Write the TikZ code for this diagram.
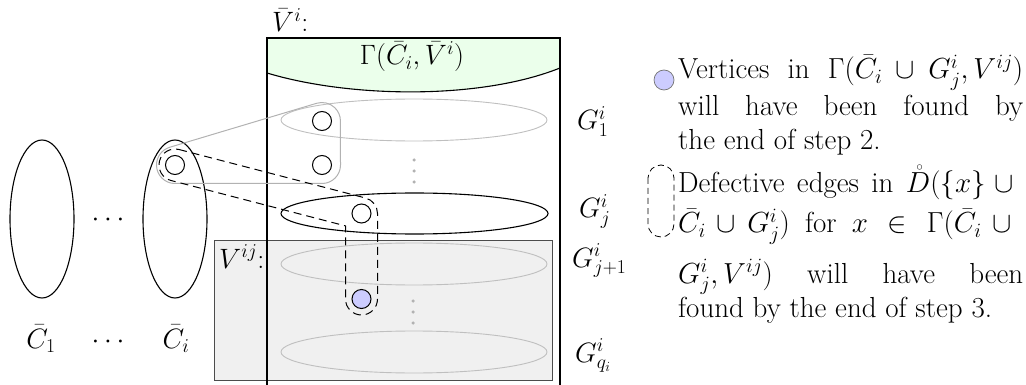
\RequirePackage{fix-cm}
\documentclass[tikz,border=0pt]{standalone}
\begin{document}
\begin{tikzpicture}[x=1pt,y=-1pt,
  txt/.style={font=\fontsize{28}{35}\selectfont, inner sep=0pt},
  ltxt/.style={font=\fontsize{29}{35}\selectfont, inner sep=0pt, anchor=base west},
  blk/.style={line width=1.1pt},
  lgray/.style={draw=black!25, line width=0.9pt},
  hull/.style={draw=black!30, line width=1pt},
  dsh/.style={line width=1pt, dash pattern=on 8pt off 5pt},
  vtx/.style={circle, draw, line width=1pt, minimum size=19pt, inner sep=0pt},
  bvtx/.style={vtx, fill=blue!20},
  gdot/.style={circle, fill=black!30, inner sep=0pt, minimum size=3.5pt}]
\useasboundingbox (0,0) rectangle (1026,385);
% green region
\fill[green!8] (267,38) -- (560,38) -- (560,68) .. controls (480,100) and (350,98) .. (267,73) -- cycle;
\draw[blk] (267,73) .. controls (350,98) and (480,100) .. (560,68);
% V^{ij} box
\draw[draw=black!70, fill=black!6, line width=1pt] (214,240) rectangle (552,380);
% V-bar box
\draw[blk] (267,392) -- (267,38) -- (560,38) -- (560,392);
% G ellipses
\draw[lgray] (414,120) ellipse [x radius=133, y radius=21];
\draw[blk] (414.5,213.5) ellipse [x radius=133.5, y radius=20.5];
\draw[lgray] (414,264) ellipse [x radius=133, y radius=21];
\draw[lgray] (414,352) ellipse [x radius=133, y radius=21];
% dots
\node[gdot] (d1) at (414,160) {};
\node[gdot] (d2) at (414,171) {};
\node[gdot] (d3) at (414,182) {};
\node[gdot] (d4) at (413,301) {};
\node[gdot] (d5) at (413,312) {};
\node[gdot] (d6) at (413,323) {};
% C ellipses
\draw[blk] (42,219) ellipse [x radius=32, y radius=79];
\draw[blk] (175,219) ellipse [x radius=32, y radius=79];
% gray hull
\draw[hull] (156.5,165) arc[start angle=180, end angle=253.2, radius=18.5] -- (316.6,103.3)
  arc[start angle=253.2, end angle=360, radius=18.5] -- (340.5,165)
  arc[start angle=0, end angle=90, radius=18.5] -- (175,183.5)
  arc[start angle=90, end angle=180, radius=18.5] -- cycle;
% dashed hull
\draw[dsh] (179.03,149.51) -- (365.53,198.01)
  arc[start angle=-75.4, end angle=0, radius=16] -- (377.5,299)
  arc[start angle=0, end angle=180, radius=16] -- (345.5,225.9) -- (170.97,180.49)
  arc[start angle=104.6, end angle=284.6, radius=16] -- cycle;
% vertices
\node[vtx] (a) at (175,165) {};
\node[vtx] (b) at (322,121) {};
\node[vtx] (c) at (322,165) {};
\node[vtx] (d) at (361.5,213.5) {};
\node[bvtx] (e) at (361.5,299) {};
% labels
\node[txt, anchor=base west] (lvbar) at (272,32) {$\bar{V}^i$:};
\node[txt, anchor=base] (lgam) at (412,65) {$\Gamma(\bar{C}_i, \bar{V}^i)$};
\node[txt, anchor=base west] (lvij) at (219,268) {$V^{ij}$:};
\node[txt, anchor=base] (lc1) at (41,348) {$\bar{C}_1$};
\node[txt, anchor=base] (lci) at (176,348) {$\bar{C}_i$};
\node[txt, anchor=base] (ldots1) at (108,348) {$\cdots$};
\node[txt, anchor=base] (ldots2) at (108,226) {$\cdots$};
\node[txt, anchor=base west] (lg1) at (577,130) {$G^i_1$};
\node[txt, anchor=base west] (lgj) at (579,218) {$G^i_j$};
\node[txt, anchor=base west] (lgj1) at (572,267) {$G^i_{j+1}$};
\node[txt, anchor=base west] (lgq) at (575,362) {$G^i_{q_i}$};
% legend
\node[circle, draw=black!55, line width=0.7pt, fill=blue!20, minimum size=20pt, inner sep=0pt] (leg1) at (664,80) {};
\draw[dsh, line width=0.8pt, dash pattern=on 6pt off 4pt, rounded corners=13pt] (648,165) rectangle (674,237);
\node[ltxt] (t1) at (678,79) {\hbox to 345pt{Vertices in $\Gamma(\bar{C}_i \cup G^i_j, V^{ij})$}};
\node[ltxt] (t2) at (678,116) {\hbox to 345pt{will have been found by}};
\node[ltxt] (t3) at (678,150) {the end of step 2.};
\node[ltxt] (t4) at (678,193) {\hbox to 345pt{Defective edges in $\mathring{D}(\{x\} \cup{}$}};
\node[ltxt] (t5) at (678,233) {\hbox to 345pt{$\bar{C}_i \cup G^i_j)$ for $x \in \Gamma(\bar{C}_i \cup{}$}};
\node[ltxt] (t6) at (678,283) {\hbox to 345pt{$G^i_j, V^{ij})$ will have been}};
\node[ltxt] (t7) at (678,317) {found by the end of step 3.};
\end{tikzpicture}
\end{document}
